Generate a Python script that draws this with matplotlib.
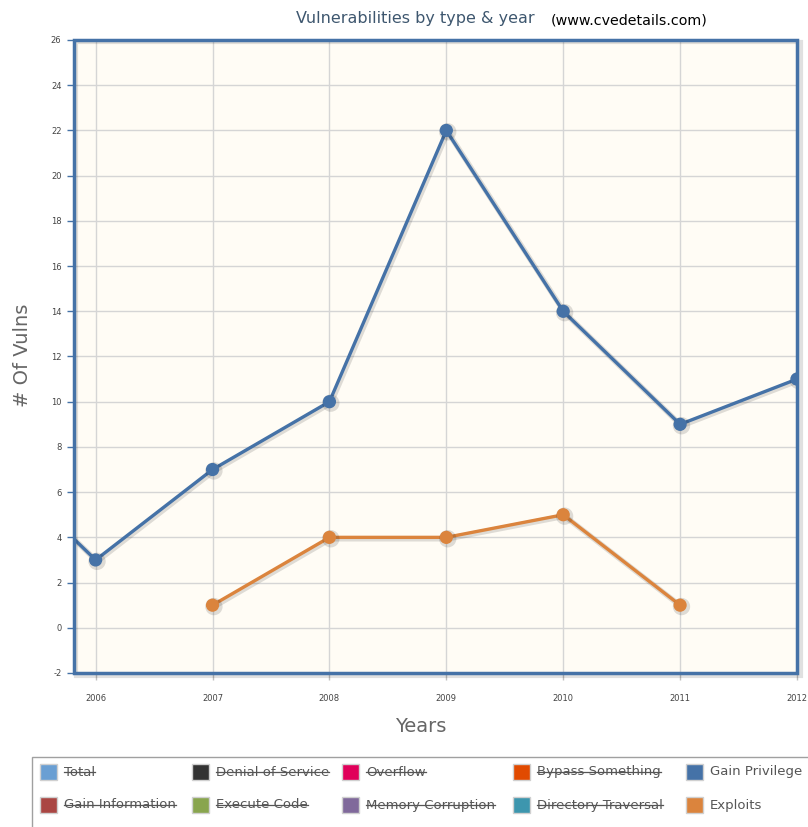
import matplotlib
matplotlib.use('Agg')
import matplotlib.pyplot as plt
import matplotlib.patheffects as pe
from matplotlib.patches import Rectangle

# Данные графика
years = [2005, 2006, 2007, 2008, 2009, 2010, 2011, 2012]
gain_privilege = [8, 3, 7, 10, 22, 14, 9, 11]
exploit_years = [2007, 2008, 2009, 2010, 2011]
exploits = [1, 4, 4, 5, 1]
year_ticks = [2006, 2007, 2008, 2009, 2010, 2011, 2012]
y_ticks = list(range(-2, 27, 2))

legend_names = ['Total', 'Denial of Service', 'Overflow', 'Bypass Something', 'Gain Privilege',
                'Gain Information', 'Execute Code', 'Memory Corruption', 'Directory Traversal', 'Exploits']
legend_colors = ['#6A9FD3', '#333333', '#E0005A', '#E14A00', '#4572A7',
                 '#AA4643', '#89A54E', '#80699B', '#3D96AE', '#DB843D']
legend_hidden = [True, True, True, True, False, True, True, True, True, False]

W, H = 808, 827
fig = plt.figure(figsize=(W / 100, H / 100), dpi=100)
ax = fig.add_axes([74 / W, 1 - 673 / H, (797 - 74) / W, (673 - 40) / H])
ax.set_facecolor('#FFFCF5')

ax.set_xlim(2005.815, 2012)
ax.set_ylim(-2, 26)
ax.set_xticks(year_ticks)
ax.set_yticks(y_ticks)
ax.set_xticklabels([str(y) for y in year_ticks], fontsize=6, color='#444444')
ax.set_yticklabels([str(y) for y in y_ticks], fontsize=6, color='#444444')
ax.tick_params(axis='x', length=5, width=1, color='#C0C0C0', pad=10)
ax.tick_params(axis='y', length=5, width=1, color='#4572A7', pad=4)
ax.grid(True, color='#D5D5D5', linewidth=1)
ax.set_axisbelow(True)
for s in ax.spines.values():
    s.set_visible(False)

shadow = [pe.SimpleLineShadow(offset=(1.0, -1.0), shadow_color='#000000', alpha=0.13, linewidth=4), pe.Normal()]
ax.plot(years, gain_privilege, color='#4572A7', linewidth=2.4, marker='o', markersize=8.5,
        path_effects=shadow, clip_on=True, zorder=3)
ax.plot(exploit_years, exploits, color='#DB843D', linewidth=2.4, marker='o', markersize=8.5,
        path_effects=shadow, zorder=3)

# рамка области графика с тенью
fig.add_artist(Rectangle((76 / W, 1 - 676 / H), (799 - 74) / W, (676 - 42) / H,
                         transform=fig.transFigure, fill=False, edgecolor='#000000',
                         alpha=0.12, linewidth=3))
fig.add_artist(Rectangle((74 / W, 1 - 673 / H), (797 - 74) / W, (673 - 40) / H,
                         transform=fig.transFigure, fill=False, edgecolor='#4572A7', linewidth=2.5))

ax.set_xlabel('Years', fontsize=14, color='#666666')
ax.xaxis.set_label_coords((421 - 74) / (797 - 74), -(726 - 673) / (673 - 40))
ax.set_ylabel('# Of Vulns', fontsize=14, color='#666666')
ax.yaxis.set_label_coords(-(74 - 22) / (797 - 74), (673 - 355) / (673 - 40))
ax.xaxis.label.set_verticalalignment('center')
ax.yaxis.label.set_verticalalignment('center')

fig.text(296 / W, 1 - 18 / H, 'Vulnerabilities by type & year', fontsize=11.5, color='#3E576F',
         va='center', ha='left')
fig.text(551 / W, 1 - 20 / H, '(www.cvedetails.com)', fontsize=10.3, color='#000000',
         va='center', ha='left')

# легенда
fig.add_artist(Rectangle((32 / W, 1 - 828 / H), (812 - 32) / W, (828 - 757) / H,
                         transform=fig.transFigure, fill=False, edgecolor='#A0A0A0', linewidth=1))
col_x = [40, 192, 342, 513, 686]
row_y = [772, 805]
texts = []
for i, (name, col, hid) in enumerate(zip(legend_names, legend_colors, legend_hidden)):
    cx = col_x[i % 5]
    cy = row_y[i // 5]
    fig.add_artist(Rectangle((cx / W, 1 - (cy + 8) / H), 17 / W, 16 / H, transform=fig.transFigure,
                             facecolor=col, edgecolor='#D0D0D0', linewidth=1))
    t = fig.text((cx + 24) / W, 1 - cy / H, name, fontsize=9.5, color='#555555',
                 va='center', ha='left')
    texts.append((t, hid))

fig.canvas.draw()
r = fig.canvas.get_renderer()
for t, hid in texts:
    if hid:
        bb = t.get_window_extent(r).transformed(fig.transFigure.inverted())
        ym = bb.y0 + bb.height * 0.52
        fig.add_artist(plt.Line2D([bb.x0, bb.x1], [ym, ym], transform=fig.transFigure,
                                  color='#555555', linewidth=0.9))

fig.savefig('out.png', dpi=100)
